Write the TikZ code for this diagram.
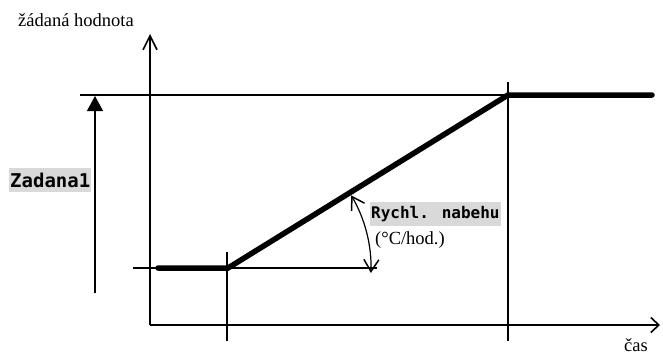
\documentclass[tikz,border=0pt]{standalone}
\usepackage{fontspec}
\setmainfont{Liberation Serif}
\newfontfamily\monob{DejaVu Sans Mono}
\usetikzlibrary{arrows.meta}
\definecolor{labelgray}{HTML}{D9D9D9}
\begin{document}
\begin{tikzpicture}[x=1pt,y=-1pt,
  thin line/.style={line width=1.2pt,black},
  ramp/.style={line width=5.5pt,line cap=round,line join=miter},
  serif lbl/.style={inner sep=0pt,font=\fontsize{18.5}{20}\selectfont},
  mono lbl/.style={fill=labelgray,inner xsep=1pt,inner ysep=0pt,minimum height=24pt,anchor=west},
  axis tip/.style={-{Straight Barb[length=14pt,width=14pt,line width=1.6pt]}},
  axis tip x/.style={-{Straight Barb[length=8pt,width=15pt,line width=1.6pt]}},
  angle tips/.style={{Straight Barb[length=12pt,width=15pt,line width=1.5pt]}-{Straight Barb[length=12pt,width=15pt,line width=1.5pt]}}
]
\useasboundingbox (0,0) rectangle (663,356);
% coordinates
\coordinate (O) at (150,325);
\coordinate (Ytop) at (150,34);
\coordinate (Xend) at (660,325);
\coordinate (Ltop) at (80,95);
\coordinate (Rtop) at (508,95);
\coordinate (Lbot) at (133,268);
\coordinate (Rbot) at (377,268);
\coordinate (V1t) at (227,252);
\coordinate (V1b) at (227,341);
\coordinate (V2t) at (508,82);
\coordinate (V2b) at (508,341);
\coordinate (Za) at (95,293);
\coordinate (Zb) at (95,96);
\coordinate (P0) at (158,268);
\coordinate (P1) at (228,268);
\coordinate (P2) at (508,95);
\coordinate (P3) at (652,95);
\coordinate (ArcA) at (351.2,195.4);
% helper lines
\draw[thin line] (Ltop) -- (Rtop);
\draw[thin line] (Lbot) -- (Rbot);
\draw[thin line] (V1t) -- (V1b);
\draw[thin line] (V2t) -- (V2b);
\draw[thin line,-{Triangle[length=15pt,width=16pt]}] (Za) -- (Zb);
% axes
\draw[thin line,axis tip] (O) -- (Ytop);
\draw[thin line,axis tip x] (O) -- (Xend);
% ramp
\draw[ramp] (P0) -- (P1) -- (P2) -- (P3);
% angle arc
\draw[thin line,angle tips] (ArcA) arc[start angle=30.5,end angle=-2,radius=143pt];
% labels
\node[serif lbl,anchor=base west] (ylab) at (18,27) {žádaná hodnota};
\node[serif lbl,anchor=base west] (xlab) at (624,351) {čas};
\node[serif lbl,anchor=base west] (unit) at (375,244) {(°C/hod.)};
\node[mono lbl,font=\monob\bfseries\fontsize{19}{20}\selectfont] (zad) at (9,180) {Zadana1};
\node[mono lbl,font=\monob\bfseries\fontsize{16}{18}\selectfont] (rych) at (370,214) {Rychl. nabehu};
\end{tikzpicture}
\end{document}
